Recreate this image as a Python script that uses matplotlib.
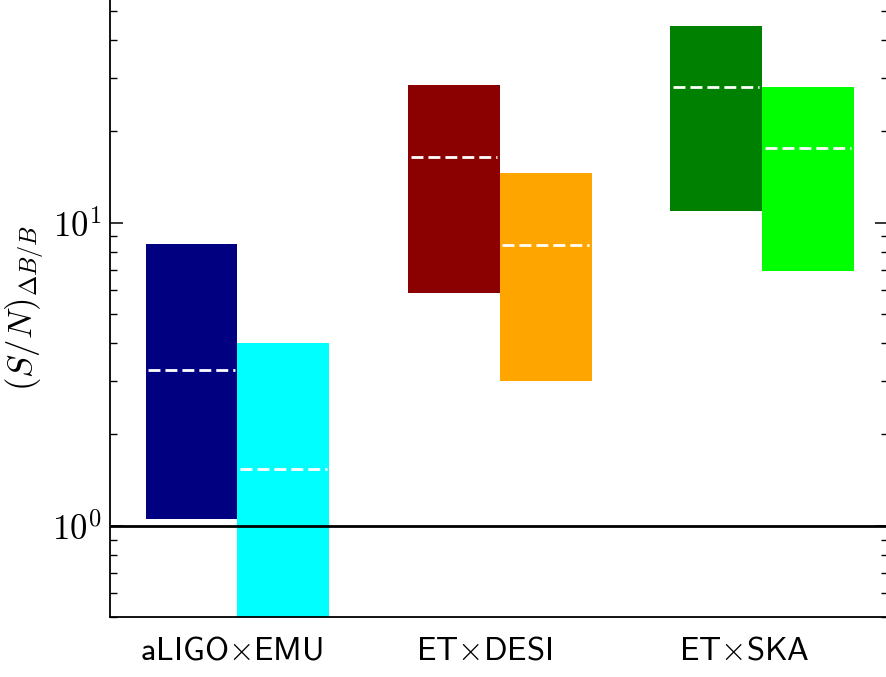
import matplotlib
matplotlib.use("Agg")
import matplotlib.pyplot as plt
from matplotlib.ticker import FuncFormatter, NullFormatter
from matplotlib.transforms import ScaledTranslation
import numpy as np

plt.rcParams['mathtext.fontset'] = 'cm'

categories = [r'$\mathsf{aLIGO}{\times}\mathsf{EMU}$',
              r'$\mathsf{ET}{\times}\mathsf{DESI}$',
              r'$\mathsf{ET}{\times}\mathsf{SKA}$']

# (first series, second series) per category: low, high, median
low_a = [1.05, 5.85, 10.9]
high_a = [8.5, 28.4, 44.5]
med_a = [3.26, 16.4, 28.0]
low_b = [0.4, 3.0, 6.92]
high_b = [4.0, 14.6, 28.0]
med_b = [1.54, 8.43, 17.6]
colors_a = ['#000080', '#8B0000', '#008000']
colors_b = ['#00FFFF', '#FFA500', '#00FF00']

fig = plt.figure(figsize=(8.87, 6.77), dpi=100)
ax = fig.add_axes([110/887, 60/677, 778.5/887, 618.8/677])

w = 0.35
x = np.arange(len(categories))
for i in range(len(categories)):
    for xc, lo, hi, md, c in [(x[i] - w/2, low_a[i], high_a[i], med_a[i], colors_a[i]),
                              (x[i] + w/2, low_b[i], high_b[i], med_b[i], colors_b[i])]:
        ax.bar(xc, hi - lo, bottom=lo, width=w, color=c, linewidth=0, zorder=2)
        ax.hlines(md, xc - w/2 + 0.01, xc + w/2 - 0.01, colors='white',
                  linestyles=(0, (4.3, 1.8)), linewidth=2, zorder=3)

ax.axhline(1.0, color='black', lw=2, zorder=4)

ax.set_yscale('log')
ax.set_ylim(0.5, 55)
ax.set_xlim(-0.486, 2.482)

ax.yaxis.set_major_formatter(FuncFormatter(lambda v, p: r'$10^{%d}$' % int(round(np.log10(v)))))
ax.yaxis.set_minor_formatter(NullFormatter())
ax.tick_params(axis='y', which='both', direction='in', left=True, right=True)
ax.tick_params(axis='y', which='major', length=9.4, width=1.1, labelsize=25, pad=6)
ax.tick_params(axis='y', which='minor', length=4.7, width=1.0)

ax.set_xticks(x)
ax.set_xticklabels(categories)
ax.tick_params(axis='x', length=0, labelsize=23.5, pad=12)

label_shift_px = [-6, -16, -18]
for lab, dx in zip(ax.get_xticklabels(), label_shift_px):
    lab.set_transform(lab.get_transform() + ScaledTranslation(dx / 100, 0, fig.dpi_scale_trans))

for s in ax.spines.values():
    s.set_linewidth(1.3)

ax.set_ylabel(r'$(S/N)_{\Delta B/B}$', fontsize=25, labelpad=4)

fig.savefig('out.png', dpi=100)
